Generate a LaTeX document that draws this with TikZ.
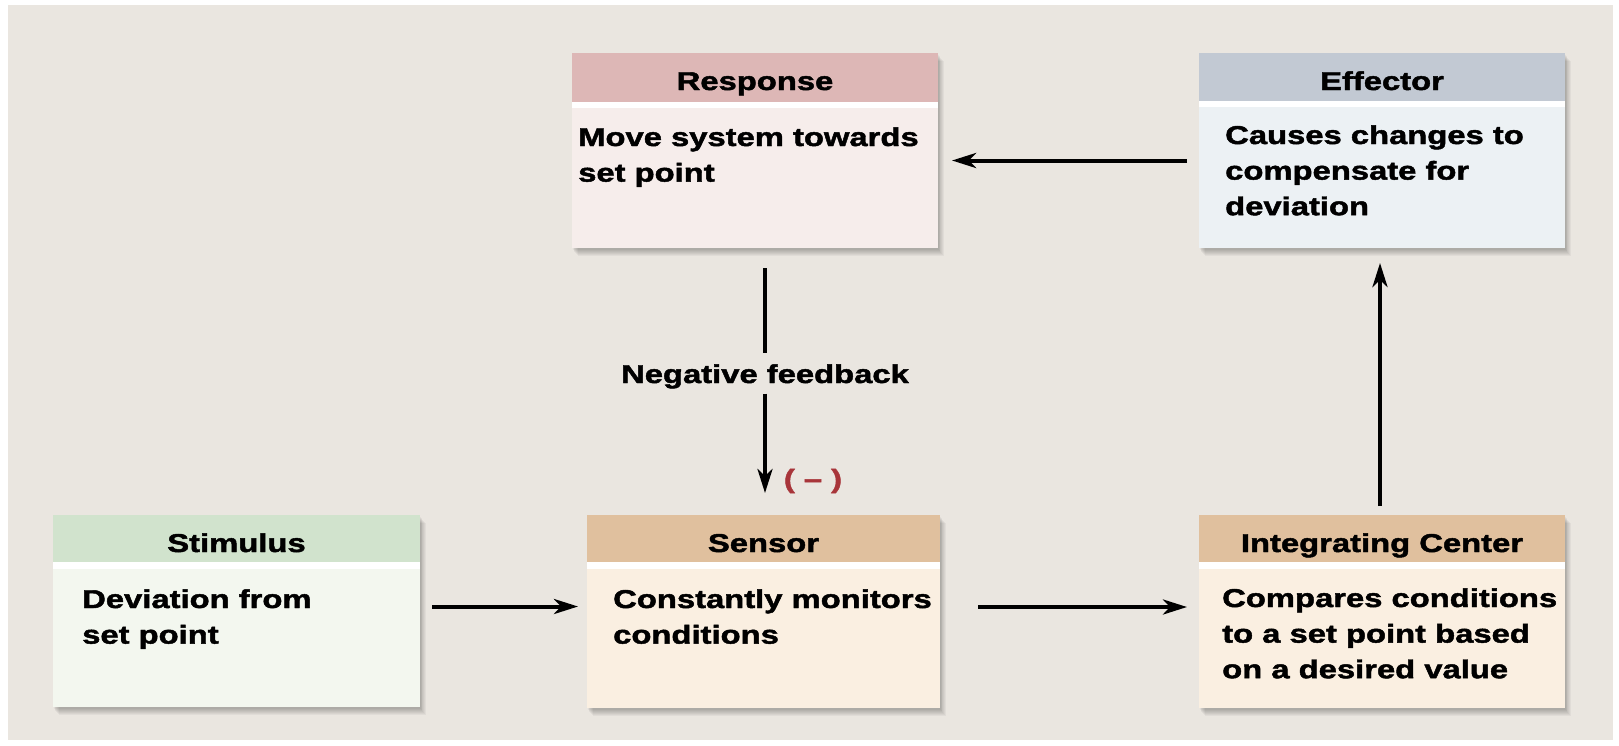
\documentclass[tikz,border=0pt]{standalone}
\usepackage{fontspec}
\setmainfont{Liberation Sans}[FakeStretch=1.27, BoldFeatures={FakeBold=1.8}]
\usetikzlibrary{arrows.meta}
\definecolor{panel}{HTML}{EAE6E0}
\definecolor{respH}{HTML}{DDB7B6}
\definecolor{respB}{HTML}{F6EDEB}
\definecolor{effH}{HTML}{C2C9D3}
\definecolor{effB}{HTML}{ECF1F4}
\definecolor{stimH}{HTML}{D1E3CD}
\definecolor{stimB}{HTML}{F3F7EF}
\definecolor{senH}{HTML}{E0C09E}
\definecolor{senB}{HTML}{FAEFE1}
\definecolor{negred}{HTML}{A8353A}
\pgfdeclarelayer{bg}
\pgfdeclarelayer{shadow}
\pgfsetlayers{bg,shadow,main}
\begin{document}
\begin{tikzpicture}[x=1pt,y=-1pt,
  arr/.style={line width=4pt, -{Stealth[length=24pt,width=15pt,inset=7pt]}},
  ln/.style={line width=4pt},
  txt/.style={font=\fontsize{25.8}{35.6}\selectfont\bfseries, inner sep=0pt, align=left, anchor=base west},
  hd/.style={font=\fontsize{25.8}{30}\selectfont\bfseries, inner sep=0pt, anchor=base},
  box/.style={rectangle, inner sep=0pt, outer sep=0pt}]
\useasboundingbox (0,0) rectangle (1619,745);
\begin{pgfonlayer}{bg}
  \fill[white] (0,0) rectangle (1619,745);
  \fill[panel] (8,5) rectangle (1613,740);
\end{pgfonlayer}

% boxes
\node[box, fill=respB, minimum width=366pt, minimum height=195pt] (resp) at (755,150.5) {};
\node[box, fill=effB, minimum width=366pt, minimum height=195pt] (eff) at (1382,150.5) {};
\node[box, fill=stimB, minimum width=367pt, minimum height=192pt] (stim) at (236.5,611) {};
\node[box, fill=senB, minimum width=353pt, minimum height=193pt] (sensor) at (763.5,611.5) {};
\node[box, fill=senB, minimum width=366pt, minimum height=193pt] (integ) at (1382,611.5) {};

\begin{pgfonlayer}{shadow}
  \foreach \n in {resp,eff,stim,sensor,integ}{
    \foreach \k in {1,...,7}{
      \fill[black,opacity=0.04] ([shift={(\k*0.8,\k+0.5)}]\n.north west) rectangle ([shift={(\k*0.8,\k+0.5)}]\n.south east);
    }
  }
\end{pgfonlayer}

% headers
\fill[respH] (resp.north west) rectangle ([yshift=-49pt]resp.north east);
\fill[white] ([yshift=-49pt]resp.north west) rectangle ([yshift=-55pt]resp.north east);
\fill[effH] (eff.north west) rectangle ([yshift=-48pt]eff.north east);
\fill[white] ([yshift=-48pt]eff.north west) rectangle ([yshift=-54pt]eff.north east);
\fill[stimH] (stim.north west) rectangle ([yshift=-47pt]stim.north east);
\fill[white] ([yshift=-47pt]stim.north west) rectangle ([yshift=-54pt]stim.north east);
\fill[senH] (sensor.north west) rectangle ([yshift=-47pt]sensor.north east);
\fill[white] ([yshift=-47pt]sensor.north west) rectangle ([yshift=-54pt]sensor.north east);
\fill[senH] (integ.north west) rectangle ([yshift=-47pt]integ.north east);
\fill[white] ([yshift=-47pt]integ.north west) rectangle ([yshift=-54pt]integ.north east);

\node[hd] (respT) at (755,90) {Response};
\node[hd] (effT) at (1382,90) {Effector};
\node[hd] (stimT) at (236.5,552) {Stimulus};
\node[hd] (senT) at (763.5,552) {Sensor};
\node[hd] (integT) at (1382,552) {Integrating Center};

% base anchor = baseline of the last line
\node[txt] (respX) at (578,181.6) {Move system towards\\set point};
\node[txt] (effX) at (1225,215.2) {Causes changes to\\compensate for\\deviation};
\node[txt] (stimX) at (82,643.6) {Deviation from\\set point};
\node[txt] (senX) at (613,643.6) {Constantly monitors\\conditions};
\node[txt] (integX) at (1222,678.2) {Compares conditions\\to a set point based\\on a desired value};

% connectors
\draw[arr, shorten <=12pt, shorten >=14pt] ([yshift=-10pt]eff.west) -- ([yshift=-10pt]resp.east);
\draw[arr, shorten <=12pt, shorten >=9pt] ([yshift=4.5pt]stim.east) -- ([yshift=4.5pt]stim.east -| sensor.west);
\draw[arr, shorten <=38pt, shorten >=12pt] ([yshift=4.5pt]sensor.east) -- ([yshift=4.5pt]sensor.east -| integ.west);
\draw[arr, shorten <=9pt, shorten >=15pt] ([xshift=-2pt]integ.north) -- ([xshift=-2pt]integ.north |- eff.south);

\node[txt, anchor=base] (nf) at (765,383) {Negative feedback};
\draw[ln, shorten <=20pt, shorten >=11pt] (nf.north |- resp.south) -- (nf.north);
\draw[arr, shorten <=5pt, shorten >=22pt] (nf.south) -- (nf.south |- sensor.north);
\node[txt, anchor=center, text=negred] (minus) at (813,481) {( – )};
\end{tikzpicture}
\end{document}
